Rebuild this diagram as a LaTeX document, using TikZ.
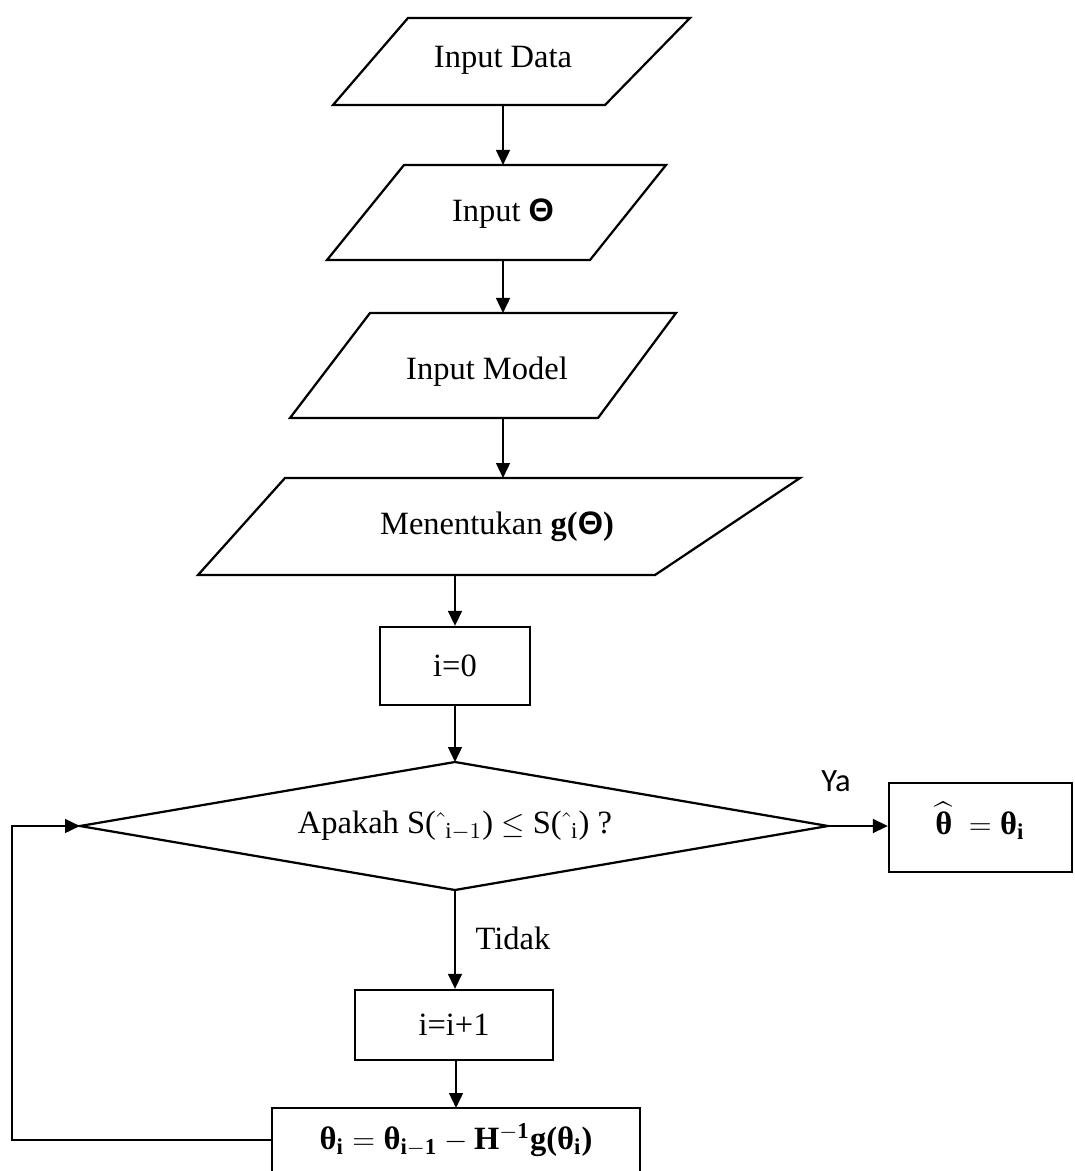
\documentclass[tikz,border=0pt]{standalone}
\usepackage{amsmath,amssymb,bm}
\usepackage{fontspec}
\setmainfont{Liberation Serif}
\newfontfamily\yafont{Carlito}
\newfontfamily\thfont{Liberation Sans}
\newcommand{\bth}{\mbox{\bfseries θ}}
\newcommand{\bTh}{\mbox{\thfont\bfseries Θ}}
\newcommand{\emptyhat}{{\hat{\vphantom{x}\hphantom{\imath}}}}
\usetikzlibrary{arrows.meta}
\begin{document}
\begin{tikzpicture}[x=0.4pt,y=-0.4pt,
  line width=0.9pt,
  shapeline/.style={draw=black,line width=0.9pt,line join=miter},
  conn/.style={draw=black,line width=0.9pt,-{Triangle[length=6pt,width=5.5pt]}},
  lbl/.style={font=\fontsize{13}{15}\selectfont,inner sep=0pt}]
\useasboundingbox (0,0) rectangle (1074,1171);
\begin{scope}
\clip (0,0) rectangle (1074,1171);
% parallelogram 1
\draw[shapeline] (408,18) -- (690,18) -- (605,105) -- (333,105) -- cycle;
\node[lbl] (p1) at (503,60) {Input Data};
\coordinate (p1b) at (503,105);
% parallelogram 2
\draw[shapeline] (404,165) -- (666,165) -- (590,260) -- (327,260) -- cycle;
\node[lbl] (p2) at (503,214) {Input \bTh};
\coordinate (p2t) at (503,165);
\coordinate (p2b) at (503,260);
% parallelogram 3
\draw[shapeline] (370,313) -- (676,313) -- (598,418) -- (290,418) -- cycle;
\node[lbl] (p3) at (487,372) {Input Model};
\coordinate (p3t) at (503,313);
\coordinate (p3b) at (503,418);
% parallelogram 4
\draw[shapeline] (285,478) -- (800,478) -- (655,575) -- (198,575) -- cycle;
\node[lbl] (p4) at (497,527) {Menentukan \textbf{g(}\bTh\textbf{)}};
\coordinate (p4t) at (503,478);
\coordinate (p4b) at (455,575);
% i=0
\node[shapeline,minimum width=60pt,minimum height=31.2pt,inner sep=0pt,lbl] (i0) at (455,666) {i=0};
% diamond
\coordinate (dT) at (455,762);
\coordinate (dR) at (828,826);
\coordinate (dB) at (455,890);
\coordinate (dL) at (80,826);
\draw[shapeline] (dT) -- (dR) -- (dB) -- (dL) -- cycle;
\node[lbl] (dtext) at (455,826) {Apakah S($\emptyhat_{\mathrm{i}-1}$) $\le$ S($\emptyhat_{\mathrm{i}}$) ?};
% result box
\node[shapeline,minimum width=73.2pt,minimum height=35.6pt,inner sep=0pt] (res) at (980.5,827.5) {};
\node[lbl] (restext) at (980,821) {$\widehat{\bth}\ =\bth_{\mathbf{i}}$};
\node[font=\yafont\fontsize{13}{15}\selectfont,inner sep=0pt] (ya) at (836,781) {Ya};
% i=i+1
\node[shapeline,minimum width=79.2pt,minimum height=28pt,inner sep=0pt,lbl] (i1) at (454,1025) {i=i+1};
\node[lbl] (tidak) at (513,938) {Tidak};
% bottom box
\draw[shapeline] (272,1200) -- (272,1108) -- (640,1108) -- (640,1200);
\coordinate (bT) at (456,1108);
\coordinate (bL) at (272,1140);
\node[lbl] (btext) at (456,1140) {$\bth_{\mathbf{i}}=\bth_{\mathbf{i}-\mathbf{1}}-\mathbf{H}^{-\mathbf{1}}\mathbf{g}\textbf{(}\bth_{\mathbf{i}}\textbf{)}$};
\coordinate (loopB) at (12,1140);
\coordinate (loopT) at (12,826);
\end{scope}
% connectors
\draw[conn] (p1b) -- (p2t);
\draw[conn] (p2b) -- (p3t);
\draw[conn] (p3b) -- (p4t);
\draw[conn] (p4b) -- (i0.north);
\draw[conn] (i0.south) -- (dT);
\draw[conn] (dR) -- (dR -| res.west);
\draw[conn] (dB) -- (i1.north -| dB);
\draw[conn] (i1.south -| bT) -- (bT);
\draw[conn] (bL) -- (loopB) -- (loopT) -- (dL);
\end{tikzpicture}
\end{document}
